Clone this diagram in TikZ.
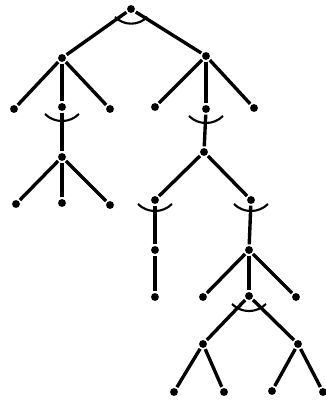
\documentclass[tikz,border=0pt]{standalone}
\begin{document}
\begin{tikzpicture}[x=0.025cm,y=0.025cm,line width=2.4pt,
  dot/.style={circle,fill,inner sep=0pt,minimum size=5.6pt},
  andarc/.style={line width=1.5pt}]
\useasboundingbox (0,0) rectangle (326,400);
\node[dot] (r) at (131,391) {}; % root
\node[dot] (a) at (62,342) {};
\node[dot] (b) at (206,344) {};
\node[dot] (a1) at (14,291) {}; % left subtree
\node[dot] (a2) at (62,293) {};
\node[dot] (a3) at (110,291) {};
\node[dot] (c) at (62,243) {};
\node[dot] (c1) at (16,196) {};
\node[dot] (c2) at (62,197) {};
\node[dot] (c3) at (110,195) {};
\node[dot] (b1) at (155,293) {}; % right subtree
\node[dot] (b2) at (206,291) {};
\node[dot] (b3) at (254,292) {};
\node[dot] (d) at (204,248) {};
\node[dot] (e) at (155,200) {};
\node[dot] (f) at (251,200) {};
\node[dot] (e1) at (155,150) {};
\node[dot] (e2) at (155,103) {};
\node[dot] (g) at (249,150) {};
\node[dot] (g1) at (203,103) {};
\node[dot] (g3) at (296,103) {};
\node[dot] (h) at (249,104) {};
\node[dot] (i) at (203,56) {}; % bottom
\node[dot] (j) at (298,56) {};
\node[dot] (i1) at (174,8) {};
\node[dot] (i2) at (224,8) {};
\node[dot] (j1) at (272,9) {};
\node[dot] (j2) at (323,8) {};
% edges
\draw (a) -- (r) -- (b);
\draw (a) -- (a1); \draw (a) -- (a2); \draw (a) -- (a3);
\draw (a2) -- (c);
\draw (c) -- (c1); \draw (c) -- (c2); \draw (c) -- (c3);
\draw (b) -- (b1); \draw (b) -- (b2); \draw (b) -- (b3);
\draw (b2) -- (d);
\draw (e) -- (d) -- (f);
\draw (e) -- (e1) -- (e2);
\draw (f) -- (g);
\draw (g) -- (g1); \draw (g) -- (h); \draw (g) -- (g3);
\draw (i) -- (h) -- (j);
\draw (i1) -- (i) -- (i2);
\draw (j1) -- (j) -- (j2);
% and-arcs
\draw[andarc] ([shift={(-16,-8)}]r.center) arc[start angle=225,end angle=315,radius=0.57cm];
\draw[andarc] ([shift={(-17,-7)}]a2.center) arc[start angle=225,end angle=315,radius=0.6cm];
\draw[andarc] ([shift={(-17,-7)}]b2.center) arc[start angle=225,end angle=315,radius=0.6cm];
\draw[andarc] ([shift={(-17,-4)}]e.center) arc[start angle=225,end angle=315,radius=0.6cm];
\draw[andarc] ([shift={(-17,-4)}]f.center) arc[start angle=225,end angle=315,radius=0.6cm];
\draw[andarc] ([shift={(-17,-8)}]h.center) arc[start angle=225,end angle=315,radius=0.6cm];
\end{tikzpicture}
\end{document}
